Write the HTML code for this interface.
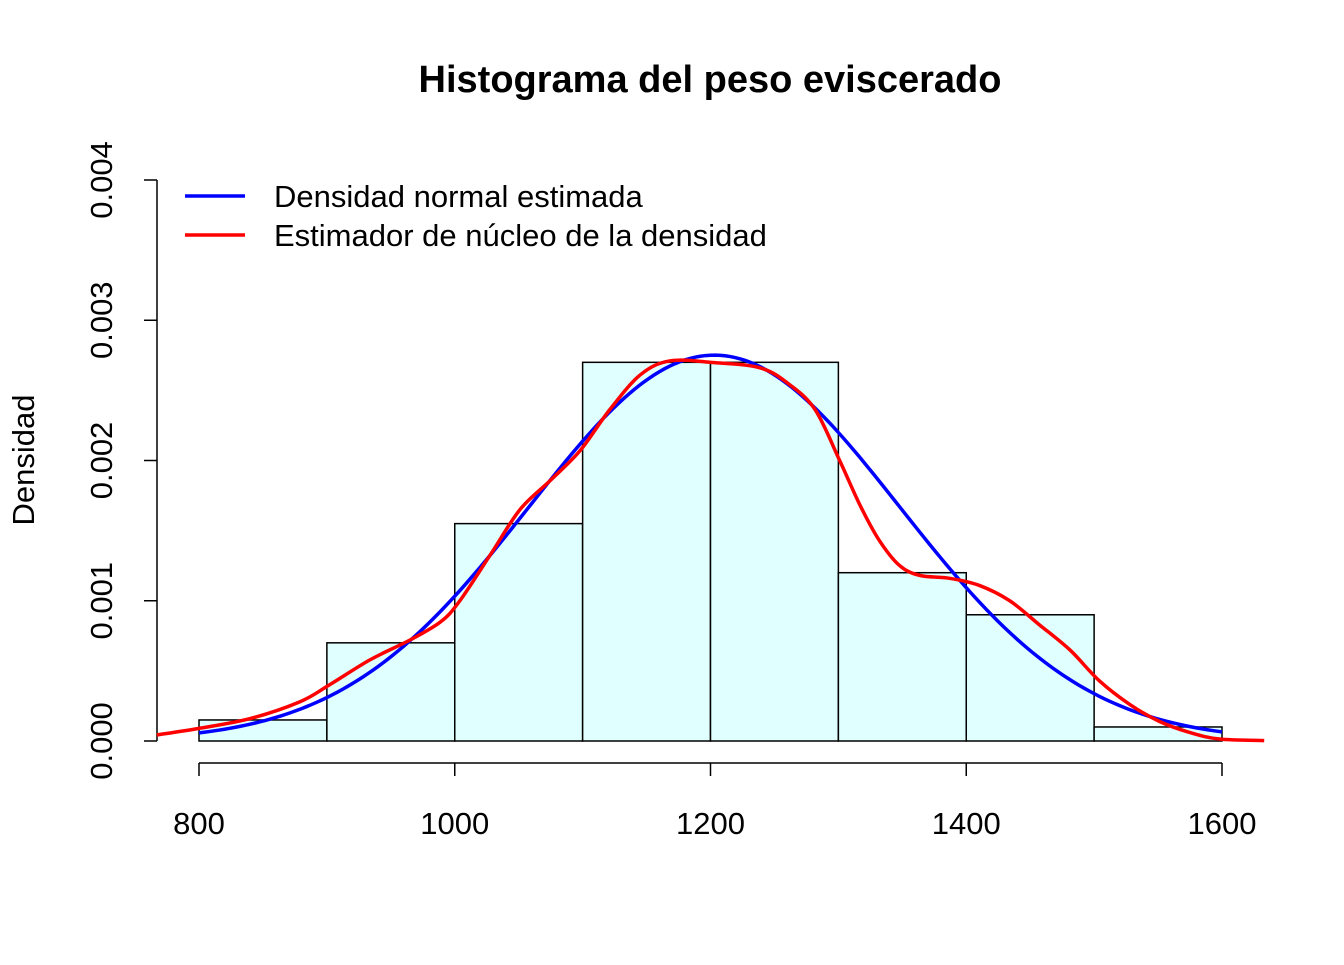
<!DOCTYPE html>
<html><head><meta charset="utf-8"><style>
body{margin:0;background:#fff}
svg text{font-family:"Liberation Sans",Arial,sans-serif;fill:#000}
</style></head><body>
<svg id="chart" width="1344" height="960" viewBox="0 0 1344 960" xmlns="http://www.w3.org/2000/svg">
<rect width="1344" height="960" fill="#fff"/>
<text x="710" y="92" font-size="38" font-weight="bold" text-anchor="middle">Histograma del peso eviscerado</text>
<text transform="translate(34,460) rotate(-90)" font-size="31" text-anchor="middle">Densidad</text>
<g id="bars"></g><g id="axes"></g><g id="curves"></g>
<g>
<line x1="185" y1="196" x2="245" y2="196" stroke="#0000ff" stroke-width="3.5"/>
<text x="274" y="207" font-size="31">Densidad normal estimada</text>
<line x1="185" y1="235" x2="245" y2="235" stroke="#ff0000" stroke-width="3.5"/>
<text x="274" y="246" font-size="31">Estimador de núcleo de la densidad</text>
</g>
</svg>
<script>
const binEdges=[800,900,1000,1100,1200,1300,1400,1500,1600];
const binDensity=[0.00015,0.0007,0.00155,0.0027,0.0027,0.0012,0.0009,0.0001];
const xTicks=[800,1000,1200,1400,1600];
const yTicks=[0,0.001,0.002,0.003,0.004];
const yTickLabels=["0.000","0.001","0.002","0.003","0.004"];
const normalMean=1203;
const normalSd=145;
const kdeX=[767,800,840,879,902,934,965,989,1004,1028,1051,1075,1098,1121,1145,1168,1200,1239,1262,1282,1301,1317,1332,1348,1364,1387,1410,1434,1457,1481,1504,1528,1551,1575,1598,1633];
const kdeY=[0.000043,0.00009,0.00016,0.00028,0.0004,0.00058,0.00072,0.00085,0.001,0.00133,0.00165,0.00186,0.00207,0.00236,0.00261,0.00271,0.0027,0.00266,0.00254,0.00236,0.002,0.00168,0.00143,0.00125,0.00118,0.00116,0.00111,0.001,0.00083,0.00065,0.00043,0.00026,0.00014,0.00006,0.000014,0.000003];
const NS="http://www.w3.org/2000/svg";
const X=v=>199+(v-800)*(1023/800);
const Y=v=>741-v*140.25*1000;
function mk(tag,attrs,parent){const e=document.createElementNS(NS,tag);for(const k in attrs)e.setAttribute(k,attrs[k]);parent.appendChild(e);return e;}
const bars=document.getElementById('bars'),axes=document.getElementById('axes'),curves=document.getElementById('curves');
binDensity.forEach((d,i)=>{
 const r=mk('rect',{x:X(binEdges[i]),y:Y(d),width:X(binEdges[i+1])-X(binEdges[i]),height:Y(0)-Y(d),fill:'#e0ffff',stroke:'#000','stroke-width':1.5},bars);
 
 
});
let l=mk('line',{x1:X(800),x2:X(1600),y1:763,y2:763,stroke:'#000','stroke-width':1.5},axes);


xTicks.forEach(t=>{
 mk('line',{x1:X(t),x2:X(t),y1:763,y2:776,stroke:'#000','stroke-width':1.5},axes);
 const tx=mk('text',{x:X(t),y:834,'font-size':31,'text-anchor':'middle'},axes);tx.textContent=t;
 
 
});
l=mk('line',{x1:157,x2:157,y1:Y(0),y2:Y(0.004),stroke:'#000','stroke-width':1.5},axes);


yTicks.forEach((t,i)=>{
 mk('line',{x1:144,x2:157,y1:Y(t),y2:Y(t),stroke:'#000','stroke-width':1.5},axes);
 const tx=mk('text',{transform:`translate(112,${Y(t)}) rotate(-90)`,'font-size':31,'text-anchor':'middle'},axes);tx.textContent=yTickLabels[i];
 
 
});
let pts=[];for(let v=800;v<=1600;v+=4){const d=Math.exp(-0.5*((v-normalMean)/normalSd)**2)/(normalSd*Math.sqrt(2*Math.PI));pts.push(X(v)+','+Y(d));}
let p=mk('polyline',{points:pts.join(' '),fill:'none',stroke:'#0000ff','stroke-width':3.5},curves);


const P=kdeX.map((x,i)=>[X(x),Y(kdeY[i])]);
let dstr='M'+P[0].join(',');
for(let i=0;i<P.length-1;i++){const p0=P[Math.max(0,i-1)],p1=P[i],p2=P[i+1],p3=P[Math.min(P.length-1,i+2)];
 dstr+=` C${p1[0]+(p2[0]-p0[0])/6},${p1[1]+(p2[1]-p0[1])/6} ${p2[0]-(p3[0]-p1[0])/6},${p2[1]-(p3[1]-p1[1])/6} ${p2[0]},${p2[1]}`;}
p=mk('path',{d:dstr,fill:'none',stroke:'#ff0000','stroke-width':3.5},curves);


</script>
</body></html>
